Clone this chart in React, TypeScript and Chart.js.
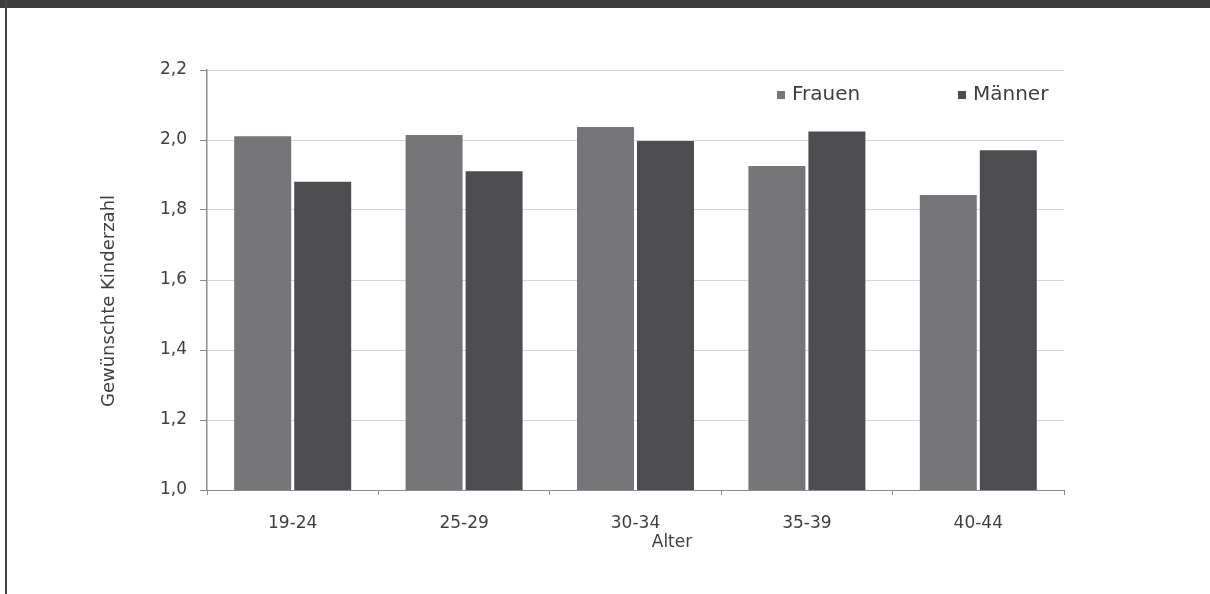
import React, { useEffect, useRef } from 'react';
import { Chart, registerables } from 'chart.js';

Chart.register(...registerables);

const categories = ['19-24', '25-29', '30-34', '35-39', '40-44'];
const frauenValues = [2.011, 2.014, 2.037, 1.926, 1.843];
const maennerValues = [1.881, 1.911, 1.997, 2.024, 1.971];
const seriesLabels = ['Frauen', 'Männer'];
const seriesColors = ['#76767a', '#4d4d51'];
const yMin = 1.0;
const yMax = 2.2;
const yStep = 0.2;
const xTitle = 'Alter';
const yTitle = 'Gewünschte Kinderzahl';

const FONT = '"DejaVu Sans", Verdana, sans-serif';
const TEXT = '#3f3f3f';

const overlayPlugin = {
  id: 'overlayPlugin',
  afterDraw(chart: any) {
    const ctx = chart.ctx;
    const a = chart.chartArea;
    ctx.save();
    ctx.fillStyle = TEXT;
    ctx.font = `18px ${FONT}`;
    ctx.textAlign = 'center';
    ctx.textBaseline = 'middle';
    ctx.translate(a.left - 98, a.top + 231);
    ctx.rotate(-Math.PI / 2);
    ctx.fillText(yTitle, 0, 0);
    ctx.restore();

    ctx.save();
    ctx.fillStyle = TEXT;
    ctx.font = `17px ${FONT}`;
    ctx.textAlign = 'center';
    ctx.textBaseline = 'middle';
    ctx.fillText(xTitle, a.left + 465, a.bottom + 53);
    ctx.restore();

    ctx.save();
    ctx.font = `20px ${FONT}`;
    ctx.textAlign = 'left';
    ctx.textBaseline = 'middle';
    const starts = [a.left + 570, a.left + 751];
    chart.data.datasets.forEach((ds: any, i: number) => {
      const x = starts[i];
      const y = a.top + 25;
      ctx.fillStyle = ds.backgroundColor;
      ctx.fillRect(x, y - 4, 8, 8);
      ctx.fillStyle = TEXT;
      ctx.fillText(ds.label, x + 15, y);
    });
    ctx.restore();
  },
};

export default function App() {
  const canvasRef = useRef<HTMLCanvasElement | null>(null);

  useEffect(() => {
    document.body.style.margin = '0';
    const canvas = canvasRef.current;
    if (!canvas) return;
    const chart = new Chart(canvas, {
      type: 'bar',
      data: {
        labels: categories,
        datasets: [
          {
            label: seriesLabels[0],
            data: frauenValues,
            backgroundColor: seriesColors[0],
            borderWidth: 0,
            categoryPercentage: 0.7,
            barPercentage: 0.95,
          },
          {
            label: seriesLabels[1],
            data: maennerValues,
            backgroundColor: seriesColors[1],
            borderWidth: 0,
            categoryPercentage: 0.7,
            barPercentage: 0.95,
          },
        ],
      },
      options: {
        responsive: false,
        animation: false,
        layout: { padding: { left: 0, top: 70, right: 146, bottom: 0 } },
        plugins: {
          legend: { display: false },
          tooltip: { enabled: false },
          title: { display: false },
        },
        scales: {
          x: {
            afterFit(scale: any) {
              scale.height = 104;
            },
            grid: {
              drawOnChartArea: false,
              drawTicks: true,
              tickLength: 5,
              tickColor: '#8c8c8c',
              offset: true,
            },
            border: { color: '#8c8c8c', width: 1 },
            ticks: {
              color: TEXT,
              font: { family: FONT, size: 17 },
              padding: 18,
              maxRotation: 0,
            },
          },
          y: {
            min: yMin,
            max: yMax,
            afterFit(scale: any) {
              scale.width = 207;
            },
            grid: {
              color: (c: any) => (c.tick && Math.abs(c.tick.value - yMin) < 1e-6 ? '#8c8c8c' : '#d6d6d6'),
              tickColor: '#8c8c8c',
              tickLength: 7,
              drawTicks: true,
            },
            border: { color: '#8c8c8c', width: 1.5 },
            ticks: {
              stepSize: yStep,
              color: TEXT,
              font: { family: FONT, size: 17 },
              padding: 13,
              callback: (v: any) => Number(v).toFixed(1).replace('.', ','),
            },
          },
        },
      },
      plugins: [overlayPlugin],
    });
    return () => chart.destroy();
  }, []);

  return (
    <div style={{ position: 'relative', width: 1210, height: 594, background: '#fff', overflow: 'hidden' }}>
      <canvas ref={canvasRef} width={1210} height={594} style={{ position: 'absolute', left: 0, top: 0 }} />
      <div style={{ position: 'absolute', left: 0, top: 0, width: 1210, height: 8, background: '#3d3d3d' }} />
      <div style={{ position: 'absolute', left: 5, top: 0, width: 2, height: 594, background: '#454545' }} />
    </div>
  );
}
